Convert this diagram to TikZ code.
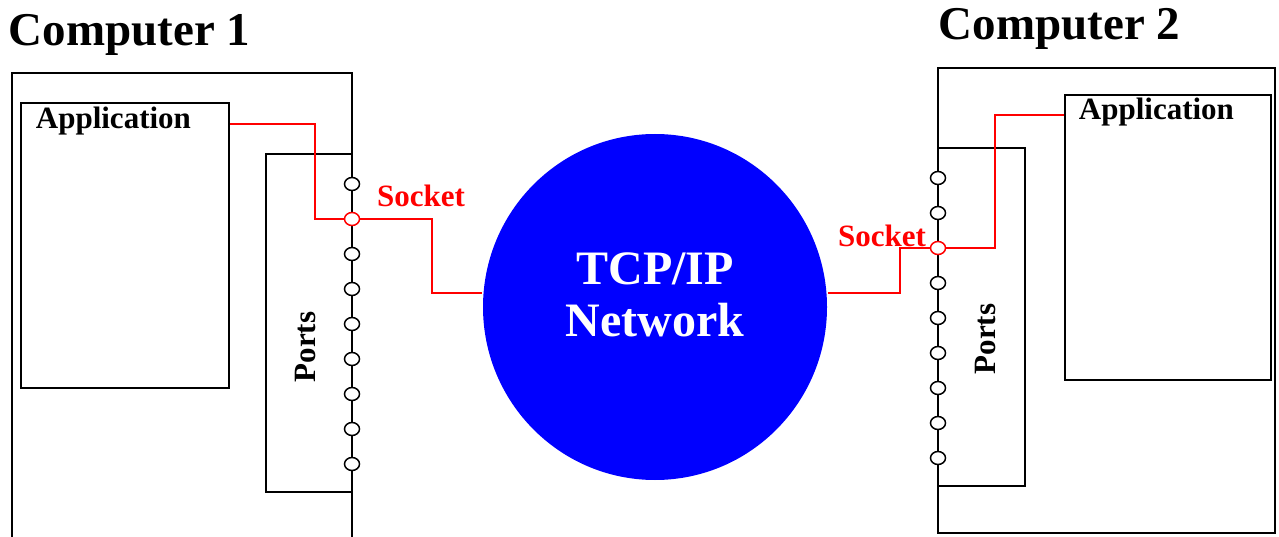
\documentclass[tikz,border=0pt]{standalone}
\usepackage{fontspec}
\setmainfont{Liberation Serif}
\usetikzlibrary{shapes.geometric}
\tikzset{
  port/.style={draw, fill=white, ellipse, line width=1.5pt, minimum width=15pt, minimum height=13pt, inner sep=0pt},
  socket/.style={port, draw=red},
  wire/.style={draw=red, line width=1.8pt},
  appbox/.style={draw, anchor=north west, inner sep=0pt},
  lbl/.style={font=\fontsize{31}{34}\selectfont\bfseries, inner sep=0pt},
  title/.style={font=\fontsize{47}{50}\selectfont\bfseries, inner sep=0pt, anchor=west},
  net/.style={ellipse, fill=blue, minimum width=344pt, minimum height=346pt, inner sep=0pt},
}
\begin{document}
\begin{tikzpicture}[x=1pt, y=-1pt, line width=1.8pt]
        \useasboundingbox (0,0) rectangle (1279,537);
        % computer 1
        \node[title] (titleL) at (8,35) {Computer 1};
        \draw (12,540) -- (12,73) -- (352,73) -- (352,540);
        \draw (352,154) -- (266,154) -- (266,492) -- (352,492);
        \node[appbox, minimum width=208pt, minimum height=285pt] (appL) at (20,102) {};
        \node[lbl, anchor=west] (appLtxt) at (35,121) {Application};
        \node[lbl, rotate=90] (portsL) at (305,347) {Ports};
        \node[port] (pL1) at (352,184) {};
        \node[socket] (pL2) at (352,219) {};
        \node[port] (pL3) at (352,254) {};
        \node[port] (pL4) at (352,289) {};
        \node[port] (pL5) at (352,324) {};
        \node[port] (pL6) at (352,359) {};
        \node[port] (pL7) at (352,394) {};
        \node[port] (pL8) at (352,429) {};
        \node[port] (pL9) at (352,464) {};
        \node[lbl, text=red] (sockL) at (421,196) {Socket};
        % network
        \node[net] (net) at (655,307) {};
        \node[font=\fontsize{48}{52}\selectfont\bfseries, text=white, align=center, inner sep=0pt] (nettxt) at (655,295) {TCP/IP\\Network};
        % computer 2
        \node[title] (titleR) at (938,29) {Computer 2};
        \draw (938,68) rectangle (1275,533);
        \draw (938,148) -- (1025,148) -- (1025,486) -- (938,486);
        \node[appbox, minimum width=206pt, minimum height=285pt] (appR) at (1064,94) {};
        \node[lbl, anchor=west] (appRtxt) at (1078,112) {Application};
        \node[lbl, rotate=90] (portsR) at (985,339) {Ports};
        \node[port] (pR1) at (938,178) {};
        \node[port] (pR2) at (938,213) {};
        \node[socket] (pR3) at (938,248) {};
        \node[port] (pR4) at (938,283) {};
        \node[port] (pR5) at (938,318) {};
        \node[port] (pR6) at (938,353) {};
        \node[port] (pR7) at (938,388) {};
        \node[port] (pR8) at (938,423) {};
        \node[port] (pR9) at (938,458) {};
        \node[lbl, text=red] (sockR) at (882,236) {Socket};
        % wires
        \draw[wire] (appL.east |- 0,124) -| (315,219) -- (pL2.west);
        \draw[wire] (pL2.east) -| (432,293) -- (net.west |- 0,293);
        \draw[wire] (net.east |- 0,293) -| (900,248) -- (pR3.west);
        \draw[wire] (pR3.east) -| (995,115) -- (appR.west |- 0,115);
    \end{tikzpicture}
\end{document}
